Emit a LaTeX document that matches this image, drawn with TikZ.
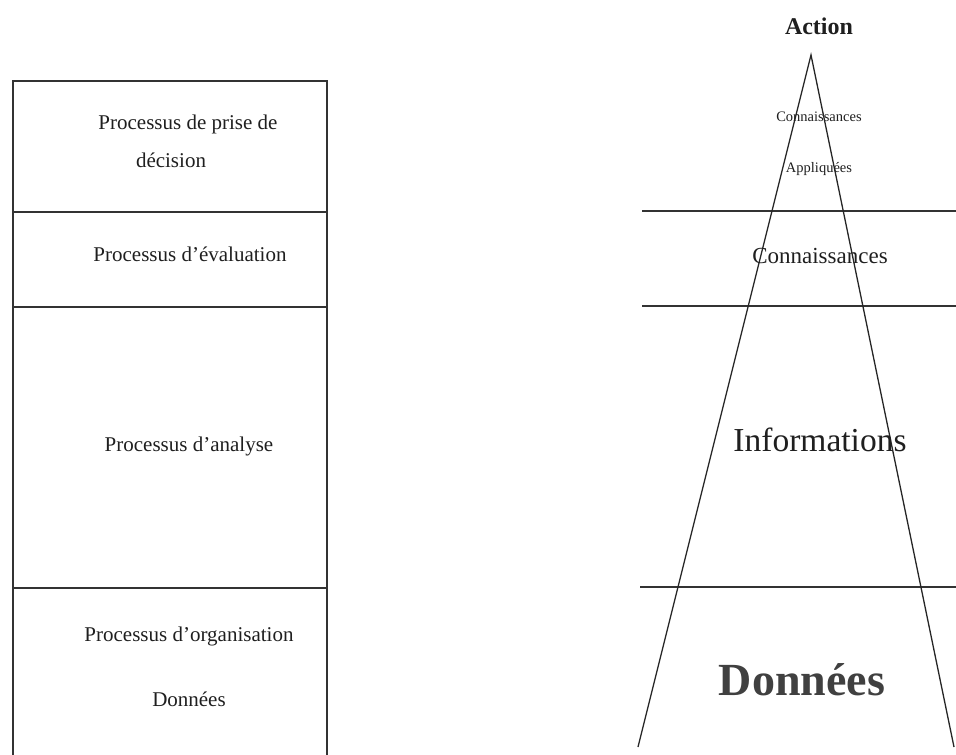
\documentclass[tikz,border=0pt]{standalone}
\usepackage{fontspec}
\setmainfont{Liberation Serif}
\begin{document}
\begin{tikzpicture}[x=1pt,y=-1pt,
  frame/.style={draw=black!80,line width=2pt},
  rule/.style={draw=black!80,line width=2pt},
  side/.style={draw=black!85,line width=1.3pt},
  lbl/.style={inner sep=0pt,text=black!88,anchor=center},
  fs/.style={font=\fontsize{#1}{#1}\selectfont},
  fsb/.style={font=\fontsize{#1}{#1}\selectfont\bfseries}]
\useasboundingbox (0,0) rectangle (956,755);

% left column of processes
\draw[frame] (13,758) -- (13,81) -- (327,81) -- (327,758);
\draw[frame] (13,212) -- (327,212);
\draw[frame] (13,307) -- (327,307);
\draw[frame] (13,588) -- (327,588);

\node[lbl,fs=21] (p1a) at (188,124) {Processus de prise de};
\node[lbl,fs=21] (p1b) at (171,160) {décision};
\node[lbl,fs=21] (p2) at (190,254) {Processus d’évaluation};
\node[lbl,fs=21] (p3) at (189,446) {Processus d’analyse};
\node[lbl,fs=21] (p4) at (189,636) {Processus d’organisation};
\node[lbl,fs=21] (p5) at (189,699) {Données};

% right pyramid
\coordinate (apex) at (811,55);
\coordinate (bl) at (638,747);
\coordinate (br) at (954,747);
\draw[rule] (642,211) -- (956,211);
\draw[rule] (642,306) -- (956,306);
\draw[rule] (640,587) -- (956,587);
\draw[side] (bl) -- (apex) -- (br);

\node[lbl,fsb=24] (act) at (819,26) {Action};
\node[lbl,fs=14.5] (ca1) at (819,117) {Connaissances};
\node[lbl,fs=14.5] (ca2) at (819,169) {Appliquées};
\node[lbl,fs=23] (con) at (820,256) {Connaissances};
\node[lbl,fs=33.5] (inf) at (820,440) {Informations};
\node[lbl,fsb=46,text=black!75] (don) at (802,680) {Données};
\end{tikzpicture}
\end{document}
